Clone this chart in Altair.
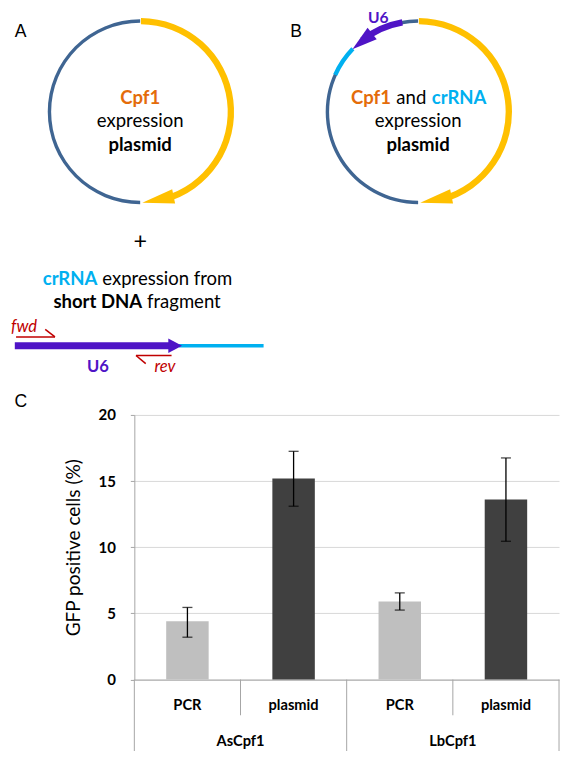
import math
import altair as alt
import pandas as pd

# ---------------- panel C data ----------------
groups = ["AsCpf1", "AsCpf1", "LbCpf1", "LbCpf1"]
conditions = ["PCR", "plasmid", "PCR", "plasmid"]
gfp_mean = [4.4, 15.2, 5.9, 13.6]
gfp_err_low = [3.2, 13.1, 5.25, 10.45]
gfp_err_high = [5.45, 17.25, 6.55, 16.75]
y_ticks = [0, 5, 10, 15, 20]
y_title = "GFP positive cells (%)"

# ---------------- colours ----------------
BLUE = "#3F6592"
YELLOW = "#FFC000"
LIGHTBLUE = "#00B0F0"
PURPLE = "#4F14C6"
ORANGE = "#E46C0A"
RED = "#C00000"
BAR_LIGHT = "#BFBFBF"
BAR_DARK = "#404040"
AXIS_GRAY = "#A6A6A6"
GRID = "#D9D9D9"

# ---------------- layout (reference pixel frame 568x759 -> svg 552x743) ----------------
SX = 552 / 568
SY = 743 / 759
SR = (SX + SY) / 2
PLOT_L = 130 * SX
PLOT_T = 415.7 * SY
PLOT_W = 437 * SX
PLOT_H = 270.3 * SY


def px(x):
    return x * SX - PLOT_L


def py(y):
    return y * SY - PLOT_T


# ---------------- diagram description (panels A and B) ----------------
circle_cx = {"A": 136, "B": 422}
circle_cy = {"A": 106, "B": 106}
circle_r = 93

seg_circle = ["A", "A", "B", "B", "B", "B", "B"]
seg_start = [180, 0.5, 180, 349, 294, 322, 0.5]
seg_end = [360, 165, 295, 360, 314, 350, 165]
seg_width = [3.5, 6.5, 3.5, 3.5, 4.5, 6.5, 6.5]
seg_color = [BLUE, YELLOW, BLUE, BLUE, LIGHTBLUE, PURPLE, YELLOW]

head_circle = ["A", "B", "B"]
head_tip = [178.6, 178.6, 313.4]
head_base = [158.3, 158.3, 329.4]
head_half = [7.5, 7.5, 7.5]
head_color = [YELLOW, YELLOW, PURPLE]

# straight DNA fragment and primers: x1, y1, x2, y2, width, colour
line_x1 = [7, 176, 8.3, 38.3, 131.7, 131.7]
line_y1 = [345, 345, 336, 328.3, 355, 355]
line_x2 = [171, 263, 48.3, 48.3, 168.3, 141.7]
line_y2 = [345, 345, 336, 336, 355, 363.3]
line_w = [7, 3.5, 1.6, 1.6, 1.6, 1.6]
line_c = [PURPLE, LIGHTBLUE, RED, RED, RED, RED]

# texts: text, x, baseline y, size, font, weight, style, align, colour
texts = [
    ("A", 13, 30, 18, "Liberation Sans", "normal", "normal", "center", "#000000"),
    ("B", 296.5, 30, 18, "Liberation Sans", "normal", "normal", "center", "#000000"),
    ("C", 13.3, 408, 18, "Liberation Sans", "normal", "normal", "center", "#000000"),
    ("Cpf1", 136, 98, 19, "Lato", "bold", "normal", "center", ORANGE),
    ("expression", 136, 122, 19, "Lato", "normal", "normal", "center", "#000000"),
    ("plasmid", 136, 146, 19, "Lato", "bold", "normal", "center", "#000000"),
    ("Cpf1", 394, 98, 19, "Lato", "bold", "normal", "right", ORANGE),
    ("and", 415, 98, 19, "Lato", "normal", "normal", "center", "#000000"),
    ("crRNA", 436, 98, 19, "Lato", "bold", "normal", "left", LIGHTBLUE),
    ("expression", 422, 122, 19, "Lato", "normal", "normal", "center", "#000000"),
    ("plasmid", 422, 146, 19, "Lato", "bold", "normal", "center", "#000000"),
    ("U6", 381, 15.5, 16, "Lato", "bold", "normal", "center", PURPLE),
    ("+", 136, 246, 24, "Lato", "normal", "normal", "center", "#000000"),
    ("crRNA", 92, 283, 19, "Lato", "bold", "normal", "right", LIGHTBLUE),
    ("expression from", 97, 283, 19, "Lato", "normal", "normal", "left", "#000000"),
    ("short DNA", 138, 306, 19, "Lato", "bold", "normal", "right", "#000000"),
    ("fragment", 143, 306, 19, "Lato", "normal", "normal", "left", "#000000"),
    ("fwd", 16.5, 331, 17, "Lato", "normal", "italic", "center", RED),
    ("U6", 92.5, 371.5, 17, "Lato", "bold", "normal", "center", PURPLE),
    ("rev", 161.5, 371.5, 17, "Lato", "normal", "italic", "center", RED),
]

# ---------------- build diagram layers ----------------
def pol(c, deg):
    t = math.radians(deg)
    return (circle_cx[c] + circle_r * math.sin(t), circle_cy[c] - circle_r * math.cos(t))


arc_df = pd.DataFrame({
    "cx": [px(circle_cx[c]) for c in seg_circle],
    "cy": [py(circle_cy[c]) for c in seg_circle],
    "t0": [math.radians(a) for a in seg_start],
    "t1": [math.radians(a) for a in seg_end],
    "ro": [(circle_r + w / 2) * SR for w in seg_width],
    "ri": [(circle_r - w / 2) * SR for w in seg_width],
    "col": seg_color,
})

heads = []
for c, tip, base, hw, col in zip(head_circle, head_tip, head_base, head_half, head_color):
    tx, ty = pol(c, tip)
    bx, by = pol(c, base)
    L = math.hypot(tx - bx, ty - by)
    ang = math.degrees(math.atan2(ty - by, tx - bx)) % 360
    h = hw / (L / 2)
    heads.append({"x": px((tx + bx) / 2), "y": py((ty + by) / 2), "ang": ang,
                  "size": (L * SR) ** 2, "shape": f"M1,0L-1,{-h:.3f}L-1,{h:.3f}Z", "col": col})
# DNA arrowhead (tip at 179, base at 165, y=345)
L = 14.0
heads.append({"x": px(172), "y": py(345), "ang": 0, "size": (L * SR) ** 2,
              "shape": f"M1,0L-1,{-7.5 / (L / 2):.3f}L-1,{7.5 / (L / 2):.3f}Z", "col": PURPLE})
head_df = pd.DataFrame(heads)

line_df = pd.DataFrame({
    "x": [px(v) for v in line_x1], "y": [py(v) for v in line_y1],
    "x2": [px(v) for v in line_x2], "y2": [py(v) for v in line_y2],
    "w": [w * SR for w in line_w], "col": line_c,
})

XN = alt.X("x:Q", scale=None, axis=None)
YN = alt.Y("y:Q", scale=None, axis=None)

arcs = alt.Chart(arc_df).mark_arc().encode(
    x=alt.X("cx:Q", scale=None, axis=None),
    y=alt.Y("cy:Q", scale=None, axis=None),
    theta=alt.Theta("t0:Q", scale=None, stack=None),
    theta2="t1:Q",
    radius=alt.Radius("ro:Q", scale=None),
    radius2="ri:Q",
    color=alt.Color("col:N", scale=None, legend=None),
)

arrowheads = alt.Chart(head_df).mark_point(filled=True, opacity=1, strokeWidth=0).encode(
    x=XN, y=YN,
    shape=alt.Shape("shape:N", scale=None, legend=None),
    size=alt.Size("size:Q", scale=None, legend=None),
    angle=alt.Angle("ang:Q", scale=None),
    color=alt.Color("col:N", scale=None, legend=None),
)

lines = alt.Chart(line_df).mark_rule(strokeCap="butt").encode(
    x=XN, y=YN, x2="x2:Q", y2="y2:Q",
    strokeWidth=alt.StrokeWidth("w:Q", scale=None, legend=None),
    color=alt.Color("col:N", scale=None, legend=None),
)

text_layers = []
style_keys = []
for t in texts:
    k = (t[4], t[5], t[6], t[7])
    if k not in style_keys:
        style_keys.append(k)
for k in style_keys:
    rows = [{"t": t[0], "x": px(t[1]), "y": py(t[2]), "s": t[3] * SR, "c": t[8]}
            for t in texts if (t[4], t[5], t[6], t[7]) == k]
    text_layers.append(
        alt.Chart(pd.DataFrame(rows)).mark_text(
            font=k[0], fontWeight=k[1], fontStyle=k[2], align=k[3], baseline="alphabetic"
        ).encode(
            x=XN, y=YN, text="t:N",
            size=alt.Size("s:Q", scale=None, legend=None),
            color=alt.Color("c:N", scale=None, legend=None),
        )
    )

diagram = alt.layer(lines, arcs, arrowheads, *text_layers)

# ---------------- panel C bar chart ----------------
keys = [g + " " + c for g, c in zip(groups, conditions)]
bar_df = pd.DataFrame({"key": keys, "group": groups, "cond": conditions,
                       "mean": gfp_mean, "lo": gfp_err_low, "hi": gfp_err_high})

AX_X = alt.Axis(labels=False, ticks=False, title=None, grid=False,
                domainColor=AXIS_GRAY, domainWidth=1)
AX_Y = alt.Axis(values=y_ticks, title=y_title, grid=True, gridColor=GRID, gridWidth=1,
                domainColor=AXIS_GRAY, tickColor=AXIS_GRAY, tickSize=4,
                labelFont="Lato", labelFontWeight="bold", labelFontSize=15, labelColor="#000000",
                labelPadding=15, titleFont="Lato", titleFontSize=19, titleFontWeight="normal",
                titleColor="#000000", titlePadding=14)
XS = alt.Scale(domain=keys, paddingInner=0, paddingOuter=0)
YS = alt.Scale(domain=[0, 20], nice=False)


def xk(**kw):
    return alt.X("key:N", scale=XS, axis=AX_X, **kw)


base = alt.Chart(bar_df)
bars = base.mark_bar(width=alt.RelativeBandSize(0.4)).encode(
    x=xk(),
    y=alt.Y("mean:Q", scale=YS, axis=AX_Y),
    color=alt.Color("cond:N", scale=alt.Scale(domain=["PCR", "plasmid"], range=[BAR_LIGHT, BAR_DARK]),
                    legend=None),
)
err = base.mark_rule(color="#000000", strokeWidth=1.3).encode(
    x=xk(), y=alt.Y("lo:Q", scale=YS, axis=AX_Y), y2="hi:Q")
cap_lo = base.mark_tick(color="#000000", thickness=1.3, size=10).encode(
    x=xk(), y=alt.Y("lo:Q", scale=YS, axis=AX_Y))
cap_hi = base.mark_tick(color="#000000", thickness=1.3, size=10).encode(
    x=xk(), y=alt.Y("hi:Q", scale=YS, axis=AX_Y))
cond_labels = base.mark_text(font="Lato", fontWeight="bold", fontSize=15 * SR,
                             baseline="alphabetic", color="#000000").encode(
    x=xk(), y=alt.value(py(717)), text="cond:N")

first_keys = [keys[0], keys[2]]
grp_df = bar_df[bar_df["key"].isin(first_keys)]
grp_labels = alt.Chart(grp_df).mark_text(font="Lato", fontWeight="bold", fontSize=15 * SR,
                                         baseline="alphabetic", color="#000000").encode(
    x=xk(bandPosition=1), y=alt.value(py(754)), text="group:N")

long_start = alt.Chart(bar_df[bar_df["key"].isin(first_keys)]).mark_rule(color=AXIS_GRAY).encode(
    x=xk(bandPosition=0), y=alt.value(PLOT_H), y2=alt.value(py(759)))
long_end = alt.Chart(bar_df[bar_df["key"] == keys[-1]]).mark_rule(color=AXIS_GRAY).encode(
    x=xk(bandPosition=1), y=alt.value(PLOT_H), y2=alt.value(py(759)))
short_sep = alt.Chart(bar_df[bar_df["key"].isin([keys[1], keys[3]])]).mark_rule(color=AXIS_GRAY).encode(
    x=xk(bandPosition=0), y=alt.value(PLOT_H), y2=alt.value(py(722.5)))

barchart = alt.layer(bars, err, cap_lo, cap_hi, cond_labels, grp_labels, long_start, long_end, short_sep)

TOTAL_W, TOTAL_H = 552, 743
chart = alt.layer(barchart, diagram).resolve_scale(
    x="independent", y="independent"
).properties(
    width=PLOT_W, height=PLOT_H,
    padding={"left": PLOT_L, "top": PLOT_T,
             "right": TOTAL_W - PLOT_L - PLOT_W, "bottom": TOTAL_H - PLOT_T - PLOT_H},
    autosize=alt.AutoSizeParams(type="none"),
).configure_view(stroke=None).configure_axisY(
    titleFont="Lato", titleFontSize=19, titleFontWeight="normal", titleColor="#000000",
    labelFont="Lato", labelFontSize=15, labelFontWeight="bold", labelColor="#000000",
)

chart.save("out.html", embed_options={"renderer": "svg", "actions": False})
